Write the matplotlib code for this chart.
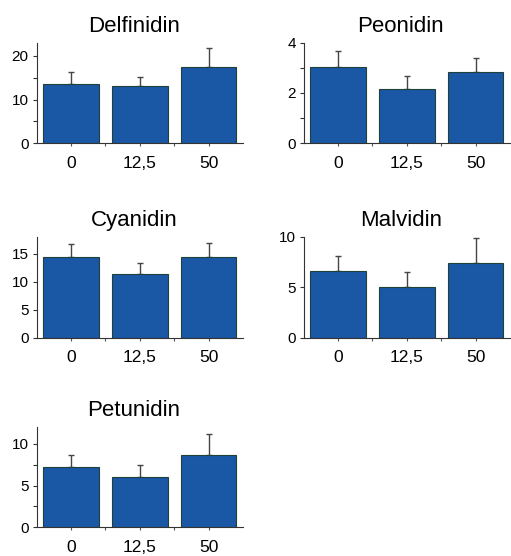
import matplotlib
matplotlib.use('Agg')
import matplotlib.pyplot as plt
import numpy as np

plt.rcParams['font.family'] = ['Liberation Sans', 'DejaVu Sans']

# Data
doses = ['0', '12,5', '50']
names = ['Delfinidin', 'Peonidin', 'Cyanidin', 'Malvidin', 'Petunidin']
means = {
    'Delfinidin': [13.5, 13.1, 17.4],
    'Peonidin':   [3.04, 2.15, 2.83],
    'Cyanidin':   [14.4, 11.3, 14.35],
    'Malvidin':   [6.57, 5.04, 7.44],
    'Petunidin':  [7.24, 6.0, 8.68],
}
errs = {
    'Delfinidin': [2.8, 2.0, 4.4],
    'Peonidin':   [0.64, 0.52, 0.57],
    'Cyanidin':   [2.3, 2.0, 2.55],
    'Malvidin':   [1.53, 1.46, 2.43],
    'Petunidin':  [1.48, 1.44, 2.48],
}
ylims = {'Delfinidin': 23, 'Peonidin': 4, 'Cyanidin': 18, 'Malvidin': 10, 'Petunidin': 12}
major = {'Delfinidin': [0, 10, 20], 'Peonidin': [0, 2, 4], 'Cyanidin': [0, 5, 10, 15],
         'Malvidin': [0, 5, 10], 'Petunidin': [0, 5, 10]}
minor = {'Delfinidin': [5, 15], 'Peonidin': [1, 3], 'Cyanidin': [],
         'Malvidin': [], 'Petunidin': [2.5, 7.5]}

# axes positions [left, bottom, width, height] in figure fractions
W, H = 511, 556
cols = [37, 304]
rows = [(42.7, 143.3), (236.7, 337.7), (427.3, 527.3)]
aw = 206

fig = plt.figure(figsize=(W / 100, H / 100), dpi=100)

bar_color = '#1a58a6'
edge_color = '#20403a'

for i, name in enumerate(names):
    r, c = divmod(i, 2)
    top, bot = rows[r]
    ax = fig.add_axes([cols[c] / W, 1 - bot / H, aw / W, (bot - top) / H])
    x = np.arange(len(doses))
    ax.bar(x, means[name], width=0.81, color=bar_color, edgecolor=edge_color,
           linewidth=0.8, zorder=2)
    ax.errorbar(x, means[name], yerr=[np.zeros(3), errs[name]], fmt='none',
                ecolor='#454545', elinewidth=1.0, capsize=2, capthick=1.0, zorder=1)
    ax.set_xlim(-0.49, 2.5)
    ax.set_ylim(0, ylims[name])
    ax.set_xticks(x)
    ax.set_xticklabels(doses, fontsize=12.5)
    ax.set_xticks([0.5, 1.5], minor=True)
    ax.set_yticks(major[name])
    ax.set_yticks(minor[name], minor=True)
    ax.tick_params(axis='y', labelsize=11, length=3, width=0.8, pad=3, colors='#333333',
                   labelcolor='black')
    ax.tick_params(axis='y', which='minor', length=3, width=0.8, colors='#333333')
    ax.tick_params(axis='x', which='both', length=2, width=0.8, pad=7, colors='#555555',
                   labelcolor='black')
    for s in ['top', 'right']:
        ax.spines[s].set_visible(False)
    for s in ['left', 'bottom']:
        ax.spines[s].set_linewidth(0.8)
        ax.spines[s].set_color('#333333')
    ax.text(0.47, 1.06, name, transform=ax.transAxes, ha='center', va='bottom',
            fontsize=16)

fig.savefig('out.png', dpi=100)
